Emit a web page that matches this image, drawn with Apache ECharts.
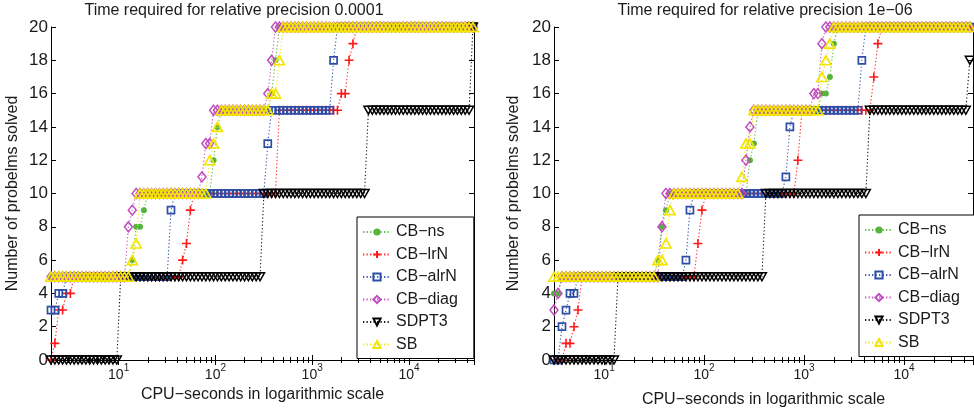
<!DOCTYPE html>
<html>
<head>
<meta charset="utf-8">
<title>CPU time profiles</title>
<script src="https://cdn.jsdelivr.net/npm/echarts@6/dist/echarts.min.js"></script>
<style>
  html, body { margin: 0; padding: 0; background: #fff; }
  #chart { width: 974px; height: 409px; }
</style>
</head>
<body>
<div id="chart"></div>
<script>
// step data per solver: [CPU-seconds, problems solved from that time on]
// left panel, relative precision 1e-4
const nsP4    = [[1.9, 5], [13.66, 6], [15.17, 8], [16.69, 9], [18.27, 10], [90.1, 12], [99.5, 14], [109.2, 15], [360, 16], [395.2, 18], [433.5, 20]]
const lrnP4   = [[2.018, 1], [2.385, 3], [2.885, 4], [3.174, 5], [41.83, 6], [46.79, 7], [52.71, 9], [57.98, 10], [449.3, 15], [2000, 16], [2231, 18], [2477, 19], [2745, 20]]
const alrnP4  = [[2.0, 3], [2.328, 4], [2.818, 5], [34.09, 9], [37.32, 10], [319.6, 13], [371.4, 15], [1606, 18], [1788, 20]]
const diagP4  = [[1.9, 5], [12.48, 8], [13.47, 9], [14.81, 10], [72.34, 11], [78.82, 13], [88.37, 15], [319.6, 16], [360, 18], [398.9, 20]]
const sdpt3P4 = [[10.44, 5], [310.6, 10], [3696, 15], [43450, 20]]
const sbP4    = [[1.9, 5], [13.66, 6], [15.17, 7], [16.61, 10], [80.34, 12], [88.99, 13], [99.5, 14], [108.2, 15], [358.3, 16], [444, 18], [488.3, 20]]
// right panel, relative precision 1e-6
const nsP6    = [[3.0, 4], [3.606, 5], [32.14, 6], [36.9, 8], [40.46, 9], [44.36, 10], [273.5, 12], [309, 13], [336.5, 15], [1452, 16], [1726, 17], [1950, 19], [2123, 20]]
const lrnP6   = [[4.14, 1], [4.753, 2], [5.093, 3], [5.495, 4], [5.984, 5], [84.53, 7], [93.76, 9], [101.6, 10], [807.2, 12], [885.1, 15], [4645, 17], [5129, 19], [5585, 20]]
const alrnP6  = [[3.69, 2], [3.999, 3], [4.539, 4], [5.093, 5], [61.24, 6], [67.14, 9], [73.62, 10], [648.6, 11], [716.1, 14], [788.9, 15], [3690, 18], [4046, 20]]
const diagP6  = [[3.0, 3], [3.42, 4], [3.75, 5], [36.48, 8], [40.46, 10], [249.5, 12], [275.4, 14], [299.9, 15], [1250, 16], [1387, 19], [1538, 20]]
const sdpt3P6 = [[13.71, 5], [404.6, 10], [4335, 15], [45000, 18]]
const sbP6    = [[3.0, 5], [32.14, 6], [40.46, 7], [44.87, 9], [49.2, 10], [218.8, 11], [245.5, 13], [296.5, 15], [1387, 17], [1549, 18], [1718, 19], [1879, 20]]

const solverNames = ["CB−ns", "CB−lrN", "CB−alrN", "CB−diag", "SDPT3", "SB"]
const titles = ["Time required for relative precision 0.0001", "Time required for relative precision 1e−06"]
const xRange4 = [2.0, 47000]
const xRange6 = [3.15, 49000]
const yTicks = [0, 20, 2] // min, max, step
const samplesPerDecade = 25

const FONT = "'Liberation Sans', Arial, sans-serif"
const TXT = "#1a1a1a"

// marker styles, same order as solverNames
const looks = [
  { color: "#55b43c", symbol: "circle", size: 6, fill: true },
  { color: "#ff1a1a", symbol: "path://M5,0L5,10M0,5L10,5", size: 9, fill: false, bw: 1.6 },
  { color: "#2d4ea6", symbol: "rect", size: 7, fill: false, bw: 1.7 },
  { color: "#c04cbf", symbol: "diamond", size: [8, 10], fill: false, bw: 1.5 },
  { color: "#000000", symbol: "triangle", size: [9, 8], fill: false, rotate: 180, bw: 1.5 },
  { color: "#f2e600", symbol: "triangle", size: [10, 9], fill: false, bw: 1.7 }
]

// evaluate the step data on the plotting grid (markers sit on a log-spaced grid)
function sampleSteps(steps, range) {
  const n = Math.floor(Math.log10(range[1] / range[0]) * samplesPerDecade + 1e-9)
  const pts = []
  for (let k = 0; k <= n; k++) {
    const t = range[0] * Math.pow(10, k / samplesPerDecade)
    let c = 0
    for (const s of steps) if (s[0] <= t * (1 + 1e-9)) c = s[1]
    pts.push([t, c])
  }
  return pts
}

function makeSeries(stepsList, range, axisIdx) {
  return stepsList.map((steps, i) => {
    const lk = looks[i]
    return {
      name: solverNames[i],
      type: "line",
      xAxisIndex: axisIdx,
      yAxisIndex: axisIdx,
      data: sampleSteps(steps, range),
      symbol: lk.symbol,
      symbolSize: lk.size,
      symbolRotate: lk.rotate || 0,
      showAllSymbol: true,
      lineStyle: { color: lk.color, width: 1.1, type: [1.3, 2.2], opacity: 0.9 },
      itemStyle: {
        color: lk.fill ? lk.color : "rgba(255,255,255,0)",
        borderColor: lk.color,
        borderWidth: lk.fill ? 0 : lk.bw
      },
      emphasis: { disabled: true },
      z: 2 + i
    }
  })
}

function xAxes(gridIndex, range, nameGap) {
  const common = {
    type: "log",
    logBase: 10,
    gridIndex: gridIndex,
    min: range[0],
    max: range[1],
    axisLine: { show: true, lineStyle: { color: "#000", width: 1 } },
    axisTick: { show: true, inside: true, length: 5, lineStyle: { color: "#000" } },
    minorTick: { show: true, splitNumber: 9, length: 3, lineStyle: { color: "#000" } },
    splitLine: { show: false },
    minorSplitLine: { show: false }
  }
  return [
    Object.assign({}, common, {
      position: "bottom",
      name: "CPU−seconds in logarithmic scale",
      nameLocation: "middle",
      nameGap: nameGap,
      nameTextStyle: { fontSize: 16, color: TXT, fontFamily: FONT },
      axisLabel: {
        showMinLabel: false,
        showMaxLabel: false,
        margin: 3,
        color: TXT,
        fontFamily: FONT,
        formatter: v => "{b|10}{s|" + Math.round(Math.log10(v)) + "}",
        rich: {
          b: { fontSize: 14, fontFamily: FONT, color: TXT, verticalAlign: "bottom", padding: [5, 0, 0, 0] },
          s: { fontSize: 10, fontFamily: FONT, color: TXT, verticalAlign: "top" }
        }
      }
    }),
    Object.assign({}, common, { position: "top", name: "", axisLabel: { show: false } })
  ]
}

function yAxes(gridIndex, nameGap) {
  const common = {
    type: "value",
    gridIndex: gridIndex,
    min: yTicks[0],
    max: yTicks[1],
    interval: yTicks[2],
    axisLine: { show: true, lineStyle: { color: "#000", width: 1 } },
    axisTick: { show: true, inside: true, length: 5, lineStyle: { color: "#000" } },
    splitLine: { show: false }
  }
  return [
    Object.assign({}, common, {
      position: "left",
      name: "Number of probelms solved",
      nameLocation: "middle",
      nameGap: nameGap,
      nameTextStyle: { fontSize: 16, color: TXT, fontFamily: FONT },
      axisLabel: { margin: 3, fontSize: 17, color: TXT, fontFamily: FONT }
    }),
    Object.assign({}, common, { position: "right", axisLabel: { show: false } })
  ]
}

function legendAt(left, top) {
  return {
    orient: "vertical",
    left: left,
    top: top,
    data: solverNames,
    selectedMode: false,
    backgroundColor: "#fff",
    borderColor: "#000",
    borderWidth: 1,
    borderRadius: 0,
    padding: [6, 16, 5, 5],
    itemGap: 4.5,
    itemWidth: 28,
    itemHeight: 9,
    textStyle: { fontSize: 16, color: TXT, fontFamily: FONT, lineHeight: 18 }
  }
}

const chart = echarts.init(document.getElementById("chart"), null, { renderer: "canvas" })

const option = {
  animation: false,
  backgroundColor: "#fff",
  textStyle: { fontFamily: FONT },
  title: [
    { text: titles[0], left: 234, top: 3, textAlign: "center", padding: 0,
      textStyle: { fontSize: 16, fontWeight: "normal", color: TXT, fontFamily: FONT } },
    { text: titles[1], left: 765, top: 3, textAlign: "center", padding: 0,
      textStyle: { fontSize: 16, fontWeight: "normal", color: TXT, fontFamily: FONT } }
  ],
  grid: [
    { left: 51, top: 27, width: 423, height: 333, outerBoundsMode: "none" },
    { left: 554, top: 27, width: 419, height: 333, outerBoundsMode: "none" }
  ],
  xAxis: [].concat(xAxes(0, xRange4, 15), xAxes(1, xRange6, 32)),
  yAxis: [].concat(yAxes(0, 30), yAxes(1, 32)),
  legend: [legendAt(357, 217), legendAt(859, 215)],
  series: [].concat(
    makeSeries([nsP4, lrnP4, alrnP4, diagP4, sdpt3P4, sbP4], xRange4, 0),
    makeSeries([nsP6, lrnP6, alrnP6, diagP6, sdpt3P6, sbP6], xRange6, 2)
  )
}

chart.setOption(option)
window.onresize = function () {
  chart.resize()
}
</script>
</body>
</html>
